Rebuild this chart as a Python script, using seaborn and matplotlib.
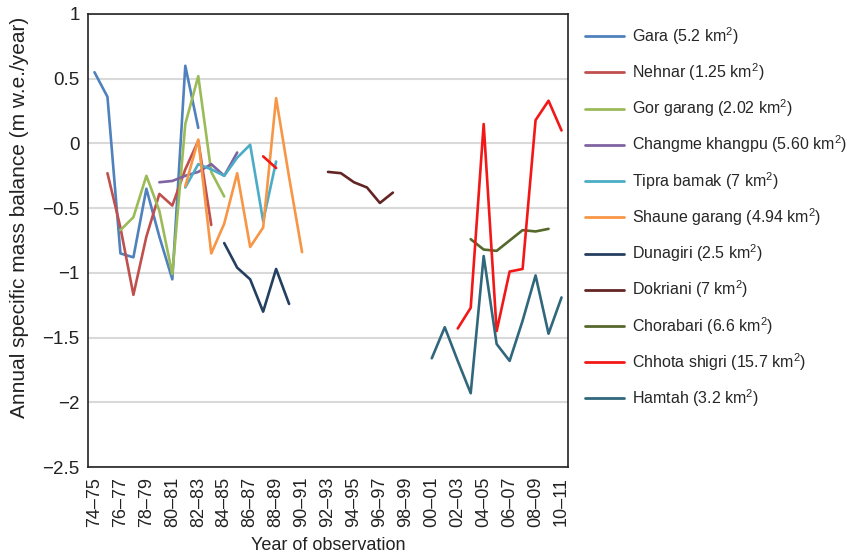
import numpy as np
import pandas as pd
import matplotlib
matplotlib.use("Agg")
import matplotlib.pyplot as plt
import seaborn as sns
from matplotlib.lines import Line2D

# ---------------- data ----------------
year_labels = [f"{y % 100:02d}\u2013{(y + 1) % 100:02d}" for y in range(1974, 2011)]

glaciers = ["Gara (5.2 km$^2$)", "Nehnar (1.25 km$^2$)", "Gor garang (2.02 km$^2$)",
            "Changme khangpu (5.60 km$^2$)", "Tipra bamak (7 km$^2$)",
            "Shaune garang (4.94 km$^2$)", "Dunagiri (2.5 km$^2$)", "Dokriani (7 km$^2$)",
            "Chorabari (6.6 km$^2$)", "Chhota shigri (15.7 km$^2$)", "Hamtah (3.2 km$^2$)"]
colors = ["#4f81bd", "#c0504d", "#9bbb59", "#8064a2", "#4bacc6", "#f79646",
          "#243f60", "#632523", "#56692c", "#f21818", "#31677c"]

# each glacier: start year label + values of a contiguous segment
gara_start = "74\u201375"
gara_mb = [0.55, 0.36, -0.85, -0.88, -0.35, -0.72, -1.05, 0.60, 0.12]
nehnar_start = "75\u201376"
nehnar_mb = [-0.23, -0.65, -1.17, -0.72, -0.39, -0.48, -0.20, 0.02, -0.63]
gorgarang_start = "76\u201377"
gorgarang_mb = [-0.67, -0.57, -0.25, -0.52, -1.01, 0.15, 0.52, -0.22, -0.41]
changme_start = "79\u201380"
changme_mb = [-0.30, -0.29, -0.25, -0.22, -0.16, -0.25, -0.07]
tipra_start = "81\u201382"
tipra_mb = [-0.34, -0.16, -0.20, -0.25, -0.11, -0.01, -0.60, -0.14]
shaune_start = "81\u201382"
shaune_mb = [-0.33, 0.03, -0.85, -0.62, -0.23, -0.80, -0.65, 0.35, -0.26, -0.84]
dunagiri_start = "84\u201385"
dunagiri_mb = [-0.77, -0.96, -1.05, -1.30, -0.97, -1.24]
dokriani_start = "92\u201393"
dokriani_mb = [-0.22, -0.23, -0.30, -0.34, -0.46, -0.38]
chorabari_start = "03\u201304"
chorabari_mb = [-0.74, -0.82, -0.83, -0.75, -0.67, -0.68, -0.66]
chhota1_start = "87\u201388"
chhota1_mb = [-0.10, -0.19]
chhota2_start = "02\u201303"
chhota2_mb = [-1.43, -1.27, 0.15, -1.45, -0.99, -0.97, 0.18, 0.33, 0.10]
hamtah_start = "00\u201301"
hamtah_mb = [-1.66, -1.42, -1.68, -1.93, -0.87, -1.55, -1.68, -1.37, -1.02, -1.47, -1.19]

segments = [
    (0, gara_start, gara_mb), (1, nehnar_start, nehnar_mb),
    (2, gorgarang_start, gorgarang_mb), (3, changme_start, changme_mb),
    (4, tipra_start, tipra_mb), (5, shaune_start, shaune_mb),
    (6, dunagiri_start, dunagiri_mb), (7, dokriani_start, dokriani_mb),
    (8, chorabari_start, chorabari_mb), (9, chhota1_start, chhota1_mb),
    (9, chhota2_start, chhota2_mb), (10, hamtah_start, hamtah_mb),
]

rows = []
for seg_id, (gi, start, vals) in enumerate(segments):
    s = year_labels.index(start)
    for k, v in enumerate(vals):
        rows.append({"glacier": glaciers[gi], "gi": gi, "seg": seg_id,
                     "pos": s + k, "year": year_labels[s + k], "mb": v})
df = pd.DataFrame(rows)

# ---------------- style ----------------
sns.set_theme(style="white")
plt.rcParams["font.family"] = ["Liberation Sans", "DejaVu Sans"]
plt.rcParams["mathtext.fontset"] = "custom"
plt.rcParams["mathtext.rm"] = "Liberation Sans"
plt.rcParams["mathtext.it"] = "Liberation Sans"
plt.rcParams["mathtext.default"] = "regular"

fig = plt.figure(figsize=(8.47, 5.55), dpi=100)
ax = fig.add_axes([88 / 847, 1 - 467 / 555, 480 / 847, 453 / 555])

for seg_id, sub in df.groupby("seg"):
    gi = sub["gi"].iloc[0]
    sns.lineplot(data=sub, x="pos", y="mb", color=colors[gi], lw=1.9,
                 estimator=None, sort=False, legend=False, ax=ax)

ax.set_xlim(-0.5, len(year_labels) - 0.5)
ax.set_ylim(-2.5, 1.0)
yt = np.arange(-2.5, 1.01, 0.5)
ax.set_yticks(yt)
ax.set_yticklabels([f"{v:g}".replace("-", "\u2212") for v in yt], fontsize=13.5)
xt = list(range(0, len(year_labels), 2))
ax.set_xticks(xt)
ax.set_xticklabels([year_labels[i] for i in xt], rotation=90, fontsize=13)
ax.grid(axis="y", color="#d9d9d9", lw=1.5)
ax.set_axisbelow(True)
for sp in ax.spines.values():
    sp.set_color("#222222")
    sp.set_linewidth(1.2)
ax.tick_params(axis="y", length=3, width=1, color="#222222", pad=3, colors="#222222")
ax.tick_params(axis="x", length=0, pad=7, colors="#222222")
ax.set_xlabel("Year of observation", fontsize=13, color="#222222")
ax.xaxis.set_label_coords((328 - 88) / 480, -(545 - 467) / 453)
ax.xaxis.label.set_va("center")
ax.set_ylabel("Annual specific mass balance (m w.e./year)", fontsize=15,
              color="#222222")
ax.yaxis.set_label_coords((20 - 88) / 480, (467 - 217) / 453)
ax.yaxis.label.set_va("center")

handles = [Line2D([], [], color=c, lw=2) for c in colors]
fig.legend(handles, glaciers, loc="upper left", bbox_to_anchor=(585 / 847, 1 - 25 / 555),
           frameon=False, fontsize=11.5, handlelength=2.45, handletextpad=0.5,
           labelspacing=0.91, borderaxespad=0, borderpad=0)

fig.savefig("out.png", dpi=100)
